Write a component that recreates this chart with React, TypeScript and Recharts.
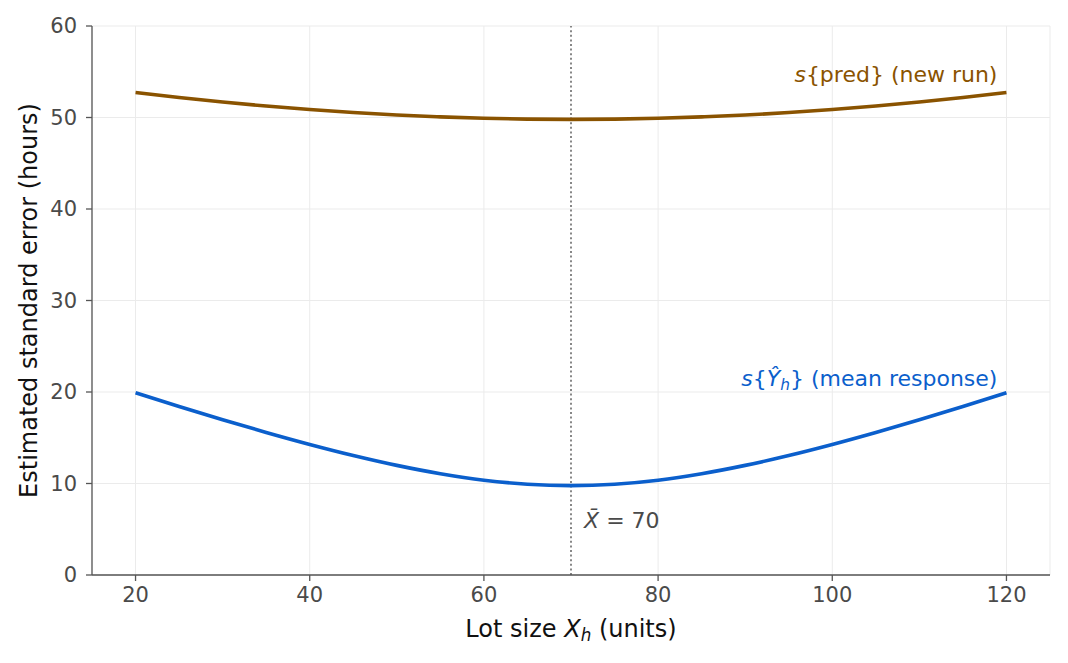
import React from "react";
import {
  LineChart,
  Line,
  XAxis,
  YAxis,
  CartesianGrid,
  ReferenceLine,
  ReferenceDot,
  Label,
} from "recharts";

// Lot sizes at which the standard errors are evaluated
const lotSizes = [20, 25, 30, 35, 40, 45, 50, 55, 60, 65, 70, 75, 80, 85, 90, 95, 100, 105, 110, 115, 120];

// s{Ŷh}: standard error of the estimated mean response (hours)
const seMean = [
  19.91, 18.42, 16.97, 15.58, 14.27, 13.06, 11.98, 11.07, 10.36, 9.92, 9.77,
  9.92, 10.36, 11.07, 11.98, 13.06, 14.27, 15.58, 16.97, 18.42, 19.91,
];

// s{pred}: standard error of prediction for a new run (hours)
const sePred = [
  52.73, 52.18, 51.69, 51.25, 50.87, 50.54, 50.27, 50.07, 49.91, 49.82, 49.79,
  49.82, 49.91, 50.07, 50.27, 50.54, 50.87, 51.25, 51.69, 52.18, 52.73,
];

const xTicks = [20, 40, 60, 80, 100, 120];
const yTicks = [0, 10, 20, 30, 40, 50, 60];
const xBar = 70;

const data = lotSizes.map((x, i) => ({ x, mean: seMean[i], pred: sePred[i] }));

const BROWN = "#8a5300";
const BLUE = "#0b5fcc";
const FONT = "'DejaVu Sans', sans-serif";
const TICK_SIZE = 21;
const LABEL_SIZE = 24;
const NOTE_SIZE = 22;

const dotCenter = (vb: any) => ({ cx: vb.x + vb.width / 2, cy: vb.y + vb.height / 2 });

export default function App() {
  return (
    <div style={{ position: "absolute", left: 0, top: 0, background: "#fff" }}>
      <LineChart
        width={1068}
        height={663}
        data={data}
        margin={{ top: 26, right: 18, bottom: 0, left: 0 }}
        style={{ fontFamily: FONT }}
      >
        <CartesianGrid stroke="#ebebeb" strokeWidth={1} />
        <XAxis
          dataKey="x"
          type="number"
          domain={[15, 125]}
          ticks={xTicks}
          height={88}
          tickSize={6}
          tickMargin={6}
          stroke="#555"
          strokeWidth={1.3}
          tick={{ fill: "#4a4a4a", fontSize: TICK_SIZE, fontFamily: FONT }}
          tickLine={{ stroke: "#555" }}
        >
          <Label
            content={(props: any) => {
              const vb = props.viewBox;
              return (
                <text
                  x={vb.x + vb.width / 2}
                  y={vb.y + 62}
                  textAnchor="middle"
                  fontSize={LABEL_SIZE}
                  fontFamily={FONT}
                  fill="#111"
                >
                  Lot size <tspan fontStyle="italic">X</tspan>
                  <tspan fontStyle="italic" fontSize={LABEL_SIZE * 0.7} dy={4}>h</tspan>
                  <tspan dy={-4}> (units)</tspan>
                </text>
              );
            }}
          />
        </XAxis>
        <YAxis
          type="number"
          domain={[0, 60]}
          ticks={yTicks}
          width={92}
          tickSize={6}
          tickMargin={9}
          stroke="#555"
          strokeWidth={1.3}
          tick={{ fill: "#4a4a4a", fontSize: TICK_SIZE, fontFamily: FONT }}
          tickLine={{ stroke: "#555" }}
        >
          <Label
            content={(props: any) => {
              const vb = props.viewBox;
              const cy = vb.y + vb.height / 2;
              return (
                <text
                  transform={`translate(37, ${cy}) rotate(-90)`}
                  textAnchor="middle"
                  fontSize={LABEL_SIZE}
                  fontFamily={FONT}
                  fill="#111"
                >
                  Estimated standard error (hours)
                </text>
              );
            }}
          />
        </YAxis>

        <ReferenceLine
          x={xBar}
          stroke="#555"
          strokeWidth={1.4}
          strokeDasharray="2 2.6"
          ifOverflow="extendDomain"
        />

        <Line
          type="monotone"
          dataKey="pred"
          stroke={BROWN}
          strokeWidth={3.6}
          dot={false}
          isAnimationActive={false}
        />
        <Line
          type="monotone"
          dataKey="mean"
          stroke={BLUE}
          strokeWidth={3.6}
          dot={false}
          isAnimationActive={false}
        />

        <ReferenceDot
          x={120}
          y={53.9}
          r={1}
          fill="none"
          stroke="none"
          label={{
            content: (props: any) => {
              const { cx, cy } = dotCenter(props.viewBox);
              return (
                <text x={cx - 9} y={cy} textAnchor="end" fontSize={NOTE_SIZE} fontFamily={FONT} fill={BROWN}>
                  <tspan fontStyle="italic">s</tspan>
                  {"{pred} (new run)"}
                </text>
              );
            },
          }}
        />
        <ReferenceDot
          x={120}
          y={20.7}
          r={1}
          fill="none"
          stroke="none"
          label={{
            content: (props: any) => {
              const { cx, cy } = dotCenter(props.viewBox);
              return (
                <text x={cx - 9} y={cy} textAnchor="end" fontSize={NOTE_SIZE} fontFamily={FONT} fill={BLUE}>
                  <tspan fontStyle="italic">s</tspan>
                  {"{"}
                  <tspan fontStyle="italic">Ŷ</tspan>
                  <tspan fontStyle="italic" fontSize={NOTE_SIZE * 0.7} dy={4}>h</tspan>
                  <tspan dy={-4}>{"} (mean response)"}</tspan>
                </text>
              );
            },
          }}
        />
        <ReferenceDot
          x={71.5}
          y={5.1}
          r={1}
          fill="none"
          stroke="none"
          label={{
            content: (props: any) => {
              const { cx, cy } = dotCenter(props.viewBox);
              return (
                <text x={cx} y={cy} textAnchor="start" fontSize={NOTE_SIZE} fontFamily={FONT} fill="#4a4a4a">
                  <tspan fontStyle="italic">{"X\u0304"}</tspan>
                  {" = 70"}
                </text>
              );
            },
          }}
        />
      </LineChart>
    </div>
  );
}
